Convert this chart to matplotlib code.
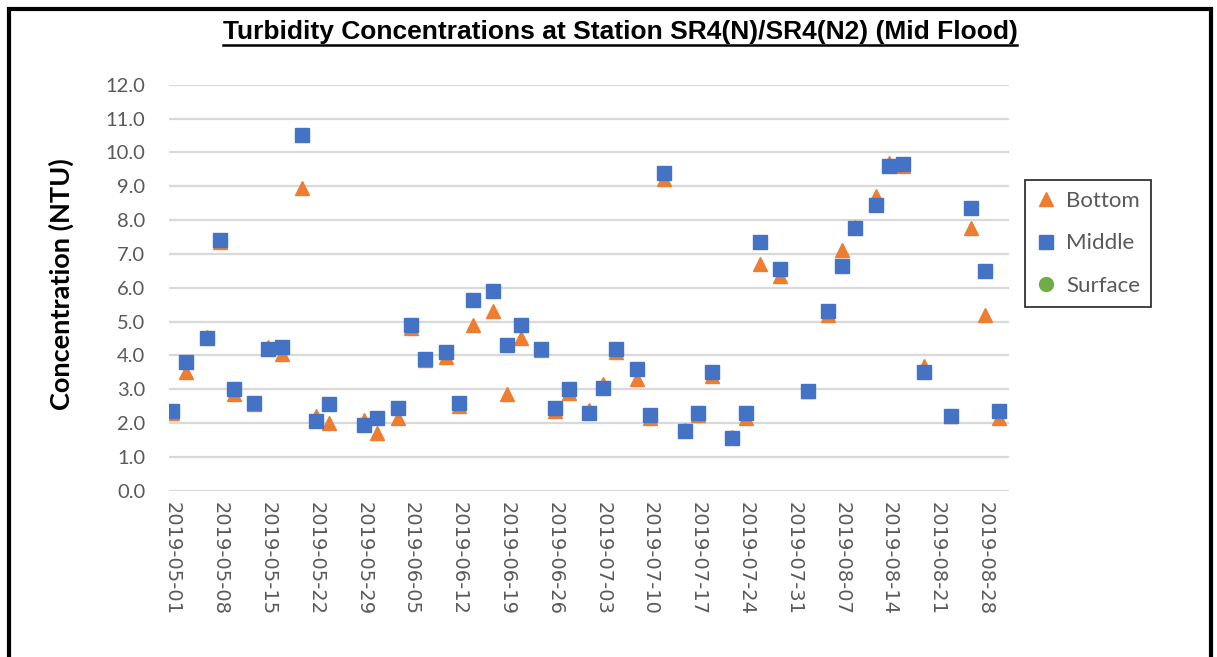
import matplotlib
matplotlib.use('Agg')
import matplotlib.pyplot as plt
import pandas as pd
from matplotlib.lines import Line2D
from matplotlib.patches import Rectangle

# sampling dates and turbidity (NTU) by depth
dates = ['2019-05-01', '2019-05-03', '2019-05-06', '2019-05-08', '2019-05-10',
         '2019-05-13', '2019-05-15', '2019-05-17', '2019-05-20', '2019-05-22',
         '2019-05-24', '2019-05-29', '2019-05-31', '2019-06-03', '2019-06-05',
         '2019-06-07', '2019-06-10', '2019-06-12', '2019-06-14', '2019-06-17',
         '2019-06-19', '2019-06-21', '2019-06-24', '2019-06-26', '2019-06-28',
         '2019-07-01', '2019-07-03', '2019-07-05', '2019-07-08', '2019-07-10',
         '2019-07-12', '2019-07-15', '2019-07-17', '2019-07-19', '2019-07-22',
         '2019-07-24', '2019-07-26', '2019-07-29', '2019-08-02', '2019-08-05',
         '2019-08-07', '2019-08-09', '2019-08-12', '2019-08-14', '2019-08-16',
         '2019-08-19', '2019-08-23', '2019-08-26', '2019-08-28', '2019-08-30']
bottom = [2.3, 3.5, 4.55, 7.35, 2.85, 2.55, 4.25, 4.05, 8.95, 2.2,
          2.0, 2.1, 1.7, 2.15, 4.8, 3.85, 3.95, 2.5, 4.9, 5.3,
          2.85, 4.5, 4.15, 2.35, 2.9, 2.4, 3.15, 4.1, 3.3, 2.15,
          9.2, 1.8, 2.25, 3.4, 1.6, 2.15, 6.7, 6.35, 2.95, 5.2,
          7.1, 7.8, 8.7, 9.7, 9.6, 3.7, 2.2, 7.75, 5.2, 2.15]
middle = [2.35, 3.8, 4.5, 7.4, 3.0, 2.6, 4.2, 4.25, 10.5, 2.05,
          2.55, 1.95, 2.15, 2.45, 4.9, 3.9, 4.1, 2.6, 5.65, 5.9,
          4.3, 4.9, 4.2, 2.45, 3.0, 2.3, 3.05, 4.2, 3.6, 2.25,
          9.4, 1.75, 2.3, 3.5, 1.55, 2.3, 7.35, 6.55, 2.95, 5.3,
          6.65, 7.75, 8.45, 9.6, 9.65, 3.5, 2.2, 8.35, 6.5, 2.35]
surface_dates = []
surface = []

x = pd.to_datetime(dates)
tick_dates = pd.date_range('2019-05-01', '2019-08-28', freq='7D')

fig = plt.figure(figsize=(12.17, 6.57), dpi=100)
ax = fig.add_axes([169 / 1217, 1 - 490.7 / 657, 840 / 1217, 406 / 657])

grey = '#595959'
ax.plot(x, bottom, linestyle='none', marker='^', markersize=10.5,
        color='#ED7D31', label='Bottom', zorder=3)
ax.plot(x, middle, linestyle='none', marker='s', markersize=10,
        color='#4472C4', label='Middle', zorder=4)
ax.plot(pd.to_datetime(surface_dates), surface, linestyle='none', marker='o',
        markersize=10, color='#70AD47', label='Surface', zorder=5)

ax.set_ylim(0, 12)
ax.set_yticks([i for i in range(13)])
ax.set_yticklabels([f'{i:.1f}' for i in range(13)], fontsize=14.5,
                   color=grey, family='Lato')
ax.set_xlim(pd.Timestamp('2019-04-30 12:00'), pd.Timestamp('2019-08-31 12:00'))
ax.set_xticks(tick_dates)
ax.set_xticklabels([d.strftime('%Y-%m-%d') for d in tick_dates], rotation=270,
                   fontsize=14, color=grey, family='DejaVu Sans')
ax.tick_params(length=0)
ax.tick_params(axis='y', pad=17)
ax.tick_params(axis='x', pad=8)
ax.grid(axis='y', color='#D9D9D9', linewidth=1.6)
ax.set_axisbelow(True)
for s in ax.spines.values():
    s.set_visible(False)

fig.text(61 / 1217, 1 - 284 / 657, 'Concentration (NTU)', rotation=90,
         ha='center', va='center', fontsize=19.5, fontweight='bold',
         family='Lato')

leg = fig.legend(loc='upper left', bbox_to_anchor=(1025 / 1217, 1 - 180 / 657),
                 frameon=True, fancybox=False, labelspacing=1.0,
                 handlelength=0.9, handletextpad=0.45, borderpad=0.5,
                 borderaxespad=0, prop={'family': 'Lato', 'size': 16})
leg.get_frame().set_edgecolor('black')
leg.get_frame().set_linewidth(1.3)
for t in leg.get_texts():
    t.set_color(grey)

title = fig.text(620 / 1217, 1 - 32 / 657,
                 'Turbidity Concentrations at Station SR4(N)/SR4(N2) (Mid Flood)',
                 ha='center', va='center', fontsize=19, fontweight='bold',
                 family='Liberation Sans')

# outer frame
fig.patches.append(Rectangle((9 / 1217, -0.05), 1202 / 1217, 1.05 - 9 / 657,
                             transform=fig.transFigure, fill=False,
                             edgecolor='black', linewidth=3))

# underline under the title
fig.canvas.draw()
bb = title.get_window_extent().transformed(fig.transFigure.inverted())
fig.add_artist(Line2D([bb.x0, bb.x1], [bb.y0 - 0.002, bb.y0 - 0.002],
                      transform=fig.transFigure, color='black', linewidth=1.8))

fig.savefig('out.png', dpi=100)
